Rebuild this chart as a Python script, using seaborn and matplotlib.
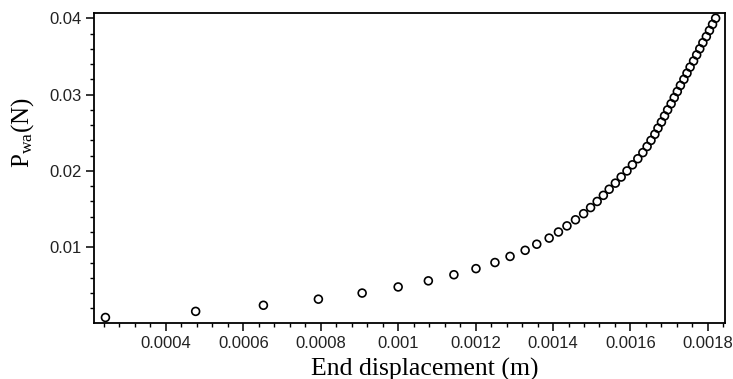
import matplotlib
matplotlib.use("Agg")
import matplotlib.pyplot as plt
import seaborn as sns
import pandas as pd
from matplotlib.ticker import MultipleLocator, FormatStrFormatter

# Data
end_displacement = [
    0.000244, 0.000477, 0.000652, 0.000794, 0.000907, 0.001000, 0.001078, 0.001144,
    0.001201, 0.001250, 0.001289, 0.001328, 0.001358, 0.001390, 0.001414, 0.001436,
    0.001458, 0.001479, 0.001497, 0.001514, 0.001530, 0.001545, 0.001561, 0.001576,
    0.001591, 0.001605, 0.001619, 0.001632, 0.001643, 0.001653, 0.001663, 0.001671,
    0.001680, 0.001688, 0.001696, 0.001705, 0.001713, 0.001721, 0.001729, 0.001738,
    0.001746, 0.001754, 0.001763, 0.001771, 0.001779, 0.001787, 0.001796, 0.001804,
    0.001812, 0.001820,
]
p_wa = [
    0.0008, 0.0016, 0.0024, 0.0032, 0.0040, 0.0048, 0.0056, 0.0064, 0.0072, 0.0080,
    0.0088, 0.0096, 0.0104, 0.0112, 0.0120, 0.0128, 0.0136, 0.0144, 0.0152, 0.0160,
    0.0168, 0.0176, 0.0184, 0.0192, 0.0200, 0.0208, 0.0216, 0.0224, 0.0232, 0.0240,
    0.0248, 0.0256, 0.0264, 0.0272, 0.0280, 0.0288, 0.0296, 0.0304, 0.0312, 0.0320,
    0.0328, 0.0336, 0.0344, 0.0352, 0.0360, 0.0368, 0.0376, 0.0384, 0.0392, 0.0400,
]
x_label = "End displacement (m)"
y_label = r"$\mathrm{P_{wa}(N)}$"

df = pd.DataFrame({"x": end_displacement, "y": p_wa})

sns.set_theme(style="ticks")
plt.rcParams["mathtext.fontset"] = "custom"
plt.rcParams["mathtext.rm"] = "Liberation Serif"
plt.rcParams["font.family"] = ["Liberation Sans", "DejaVu Sans"]

fig = plt.figure(figsize=(7.33, 3.79), dpi=100)
ax = fig.add_axes([0.128, 0.147, 0.861, 0.8195])

sns.scatterplot(data=df, x="x", y="y", ax=ax, marker="o", s=32,
                facecolor="none", edgecolor="black", linewidth=1.2, legend=False)

ax.set_xlim(0.000214, 0.001844)
ax.set_ylim(0.00004, 0.04073)

ax.xaxis.set_major_locator(MultipleLocator(0.0002))
ax.xaxis.set_minor_locator(MultipleLocator(0.00004))
ax.yaxis.set_major_locator(MultipleLocator(0.01))
ax.yaxis.set_minor_locator(MultipleLocator(0.002))
ax.xaxis.set_major_formatter(FormatStrFormatter("%g"))
ax.yaxis.set_major_formatter(FormatStrFormatter("%g"))

ax.tick_params(axis="both", which="major", direction="out", length=6, width=1.1,
               labelsize=12, labelcolor="#222222", color="black", pad=3)
ax.tick_params(axis="both", which="minor", direction="out", length=3, width=1.0,
               color="black")
for sp in ax.spines.values():
    sp.set_visible(True)
    sp.set_linewidth(1.3)
    sp.set_color("black")

ax.set_xlabel(x_label, fontsize=18.5, family="Liberation Serif", color="black")
ax.set_ylabel(y_label, fontsize=18, color="black")
ax.xaxis.set_label_coords(0.525, -0.11)
ax.yaxis.set_label_coords(-0.092, 0.615)

fig.savefig("out.png", dpi=100)
